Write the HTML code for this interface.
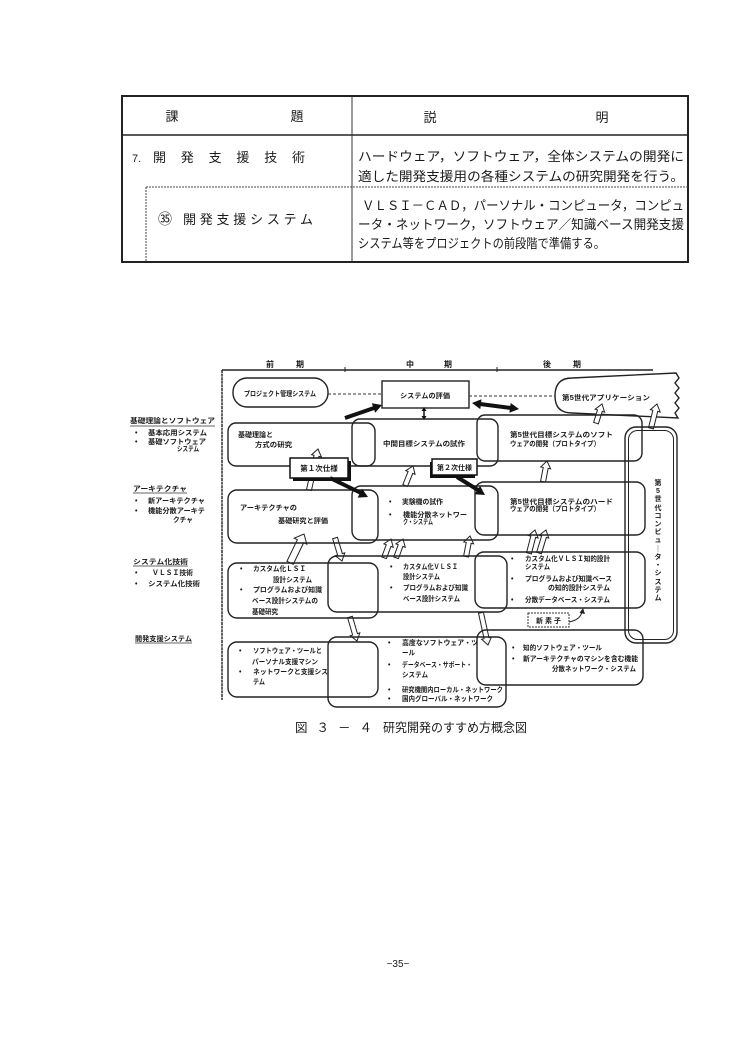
<!DOCTYPE html>
<html><head><meta charset="utf-8"><style>
html,body{margin:0;padding:0;background:#fff;}
svg{display:block;}
text{font-family:"Liberation Sans","Noto Sans CJK JP",sans-serif;fill:#1a1a1a;}
.t{font-size:13px;}
.s{font-size:7px;font-weight:bold;}
.h{font-size:8px;font-weight:bold;}
.bx{fill:none;stroke:#222;stroke-width:1.4;}
.ha{fill:#fff;stroke:#222;stroke-width:1;}
</style></head><body>
<svg width="750" height="1054" viewBox="0 0 750 1054" xmlns="http://www.w3.org/2000/svg">
<rect width="750" height="1054" fill="#fff"/>

<!-- TABLE -->
<rect x="122" y="96" width="566" height="166" fill="none" stroke="#222" stroke-width="2"/>
<line x1="122" y1="135" x2="688" y2="135" stroke="#222" stroke-width="1.5"/>
<line x1="352" y1="96" x2="352" y2="262" stroke="#333" stroke-width="1"/>
<line x1="146" y1="187" x2="688" y2="187" stroke="#444" stroke-width="1" stroke-dasharray="2,1"/>
<line x1="146" y1="187" x2="146" y2="262" stroke="#444" stroke-width="1" stroke-dasharray="2,1"/>

<text class="t" x="172" y="121" text-anchor="middle">課</text>
<text class="t" x="297" y="121" text-anchor="middle">題</text>
<text class="t" x="430" y="122" text-anchor="middle">説</text>
<text class="t" x="602" y="122" text-anchor="middle">明</text>

<text class="t" x="132" y="162" style="font-size:11px">7.</text>
<text class="t" x="153" y="162" textLength="152" lengthAdjust="spacing">開　発　支　援　技　術</text>
<text class="t" x="358" y="161" textLength="326" lengthAdjust="spacingAndGlyphs">ハードウェア，ソフトウェア，全体システムの開発に</text>
<text class="t" x="358" y="181" textLength="326" lengthAdjust="spacingAndGlyphs">適した開発支援用の各種システムの研究開発を行う。</text>

<text class="t" x="165" y="224" text-anchor="middle" style="font-size:14px">㉟</text>
<text class="t" x="183" y="224" textLength="130" lengthAdjust="spacing">開発支援システム</text>
<text class="t" x="362" y="210" textLength="322" lengthAdjust="spacingAndGlyphs">ＶＬＳＩ－ＣＡＤ，パーソナル・コンピュータ，コンピュ</text>
<text class="t" x="358" y="229" textLength="326" lengthAdjust="spacingAndGlyphs">ータ・ネットワーク，ソフトウェア／知識ベース開発支援</text>
<text class="t" x="358" y="248" textLength="247" lengthAdjust="spacingAndGlyphs">システム等をプロジェクトの前段階で準備する。</text>

<!-- DIAGRAM FRAME -->
<line x1="222" y1="370" x2="653" y2="370" stroke="#222" stroke-width="1.4"/>
<line x1="222" y1="370" x2="222" y2="700" stroke="#222" stroke-width="1.4" stroke-dasharray="3,0.6"/>
<line x1="345" y1="367" x2="345" y2="372" stroke="#222" stroke-width="1"/>
<line x1="497" y1="367" x2="497" y2="372" stroke="#222" stroke-width="1"/>
<text class="h" x="270" y="367" text-anchor="middle">前</text>
<text class="h" x="300" y="367" text-anchor="middle">期</text>
<text class="h" x="410" y="367" text-anchor="middle">中</text>
<text class="h" x="448" y="367" text-anchor="middle">期</text>
<text class="h" x="547" y="367" text-anchor="middle">後</text>
<text class="h" x="577" y="367" text-anchor="middle">期</text>

<!-- top row -->
<rect class="bx" x="233" y="378" width="95" height="29" rx="14"/>
<text class="s" x="244" y="396" textLength="72" lengthAdjust="spacingAndGlyphs">プロジェクト管理システム</text>
<line x1="328" y1="394" x2="382" y2="394" stroke="#333" stroke-width="1" stroke-dasharray="3,2"/>
<rect class="bx" x="382" y="381" width="87" height="27"/>
<text class="s" x="400" y="398" textLength="50" lengthAdjust="spacingAndGlyphs">システムの評価</text>
<line x1="469" y1="396" x2="555" y2="396" stroke="#333" stroke-width="1" stroke-dasharray="3,2"/>
<path class="bx" d="M572 378 L676 373 L679 378 L675 383 L679 388 L675 393 L679 398 L675 403 L679 408 L675 413 L678 418 L572 413 Q555 413 555 396 Q555 378 572 378 Z"/>
<text class="s" x="562" y="400" textLength="88" lengthAdjust="spacingAndGlyphs">第5世代アプリケーション</text>

<!-- thick arrows top -->
<line x1="345" y1="418" x2="374" y2="408" stroke="#111" stroke-width="4"/>
<polygon points="382,405 375.2,412.7 371.8,403.3" fill="#111"/>
<line x1="480" y1="404" x2="511" y2="408" stroke="#111" stroke-width="4"/>
<polygon points="519,409 509.4,412.8 510.7,403" fill="#111"/>
<polygon points="472,403 480.3,409.1 481.5,399.2" fill="#111"/>
<line x1="424" y1="411" x2="424" y2="416" stroke="#111" stroke-width="1.5"/>
<polygon points="424,407 421.5,411 426.5,411" fill="#111"/>
<polygon points="424,420 421.5,416 426.5,416" fill="#111"/>

<!-- hollow arrows -->
<g transform="translate(318,449) rotate(12.4)"><polygon class="ha" points="0,0 5,7 2.5,7 2.5,42 -2.5,42 -2.5,7 -5,7"/></g>
<g transform="translate(413,466) rotate(21.8)"><polygon class="ha" points="0,0 5,7 2.5,7 2.5,21 -2.5,21 -2.5,7 -5,7"/></g>
<g transform="translate(547,461) rotate(10.8)"><polygon class="ha" points="0,0 5,7 2.5,7 2.5,21 -2.5,21 -2.5,7 -5,7"/></g>
<g transform="translate(602,404) rotate(17.5)"><polygon class="ha" points="0,0 5,7 2.5,7 2.5,20 -2.5,20 -2.5,7 -5,7"/></g>
<g transform="translate(657,404) rotate(14)"><polygon class="ha" points="0,0 5,7 2.5,7 2.5,25 -2.5,25 -2.5,7 -5,7"/></g>
<g transform="translate(304,534) rotate(25.8)"><polygon class="ha" points="0,0 7,8 3.5,8 3.5,32 -3.5,32 -3.5,8 -7,8"/></g>
<g transform="translate(342,561) rotate(163.1)"><polygon class="ha" points="0,0 5,7 2.5,7 2.5,24 -2.5,24 -2.5,7 -5,7"/></g>
<g transform="translate(391,539) rotate(20.2)"><polygon class="ha" points="0,0 5,7 2.5,7 2.5,20 -2.5,20 -2.5,7 -5,7"/></g>
<g transform="translate(403,539) rotate(20.2)"><polygon class="ha" points="0,0 5,7 2.5,7 2.5,20 -2.5,20 -2.5,7 -5,7"/></g>
<g transform="translate(470,536) rotate(10.8)"><polygon class="ha" points="0,0 5,7 2.5,7 2.5,21 -2.5,21 -2.5,7 -5,7"/></g>
<g transform="translate(535,530) rotate(14.6)"><polygon class="ha" points="0,0 5,7 2.5,7 2.5,24 -2.5,24 -2.5,7 -5,7"/></g>
<g transform="translate(546,530) rotate(16.9)"><polygon class="ha" points="0,0 5,7 2.5,7 2.5,24 -2.5,24 -2.5,7 -5,7"/></g>
<g transform="translate(357,641) rotate(163.7)"><polygon class="ha" points="0,0 5,7 2.5,7 2.5,25 -2.5,25 -2.5,7 -5,7"/></g>
<g transform="translate(488,645) rotate(167.7)"><polygon class="ha" points="0,0 5,7 2.5,7 2.5,33 -2.5,33 -2.5,7 -5,7"/></g>

<!-- Row 1 -->
<rect class="bx" x="228" y="423" width="147" height="43" rx="8"/>
<rect class="bx" x="352" y="419" width="146" height="47" rx="8"/>
<rect class="bx" x="477" y="415" width="165" height="46" rx="8"/>
<text class="s" x="238" y="437" textLength="35" lengthAdjust="spacingAndGlyphs">基礎理論と</text>
<text class="s" x="255" y="447" textLength="37" lengthAdjust="spacingAndGlyphs">方式の研究</text>
<text class="s" x="383" y="446" textLength="82" lengthAdjust="spacingAndGlyphs">中間目標システムの試作</text>
<text class="s" x="510" y="437" textLength="103" lengthAdjust="spacingAndGlyphs">第5世代目標システムのソフト</text>
<text class="s" x="510" y="446" textLength="90" lengthAdjust="spacingAndGlyphs">ウェアの開発（プロトタイプ）</text>

<!-- Row 2 -->
<rect class="bx" x="228" y="490" width="150" height="53" rx="9"/>
<rect class="bx" x="352" y="486" width="146" height="54" rx="9"/>
<rect class="bx" x="475" y="482" width="170" height="53" rx="9"/>
<text class="s" x="240" y="510" textLength="57" lengthAdjust="spacingAndGlyphs">アーキテクチャの</text>
<text class="s" x="278" y="523" textLength="50" lengthAdjust="spacingAndGlyphs">基礎研究と評価</text>
<text class="s" x="389" y="504">•</text>
<text class="s" x="402" y="504" textLength="41" lengthAdjust="spacingAndGlyphs">実験機の試作</text>
<text class="s" x="389" y="517">•</text>
<text class="s" x="403" y="517" textLength="64" lengthAdjust="spacingAndGlyphs">機能分散ネットワー</text>
<text class="s" x="403" y="524" textLength="30" lengthAdjust="spacingAndGlyphs">ク・システム</text>
<text class="s" x="510" y="504" textLength="103" lengthAdjust="spacingAndGlyphs">第5世代目標システムのハード</text>
<text class="s" x="510" y="511" textLength="90" lengthAdjust="spacingAndGlyphs">ウェアの開発（プロトタイプ）</text>

<!-- Row 3 -->
<rect class="bx" x="228" y="563" width="150" height="55" rx="9"/>
<rect class="bx" x="328" y="556" width="179" height="56" rx="9"/>
<rect class="bx" x="475" y="552" width="170" height="56" rx="9"/>
<text class="s" x="240" y="571">•</text>
<text class="s" x="253" y="571" textLength="53" lengthAdjust="spacingAndGlyphs">カスタム化ＬＳＩ</text>
<text class="s" x="273" y="582" textLength="39" lengthAdjust="spacingAndGlyphs">設計システム</text>
<text class="s" x="240" y="592">•</text>
<text class="s" x="253" y="592" textLength="69" lengthAdjust="spacingAndGlyphs">プログラムおよび知識</text>
<text class="s" x="252" y="603" textLength="66" lengthAdjust="spacingAndGlyphs">ベース設計システムの</text>
<text class="s" x="252" y="614" textLength="26" lengthAdjust="spacingAndGlyphs">基礎研究</text>
<text class="s" x="390" y="569">•</text>
<text class="s" x="403" y="569" textLength="55" lengthAdjust="spacingAndGlyphs">カスタム化ＶＬＳＩ</text>
<text class="s" x="403" y="579" textLength="37" lengthAdjust="spacingAndGlyphs">設計システム</text>
<text class="s" x="390" y="590">•</text>
<text class="s" x="403" y="590" textLength="65" lengthAdjust="spacingAndGlyphs">プログラムおよび知識</text>
<text class="s" x="403" y="601" textLength="57" lengthAdjust="spacingAndGlyphs">ベース設計システム</text>
<text class="s" x="511" y="561">•</text>
<text class="s" x="525" y="561" textLength="85" lengthAdjust="spacingAndGlyphs">カスタム化ＶＬＳＩ知的設計</text>
<text class="s" x="525" y="569" textLength="25" lengthAdjust="spacingAndGlyphs">システム</text>
<text class="s" x="511" y="581">•</text>
<text class="s" x="525" y="581" textLength="87" lengthAdjust="spacingAndGlyphs">プログラムおよび知識ベース</text>
<text class="s" x="548" y="590" textLength="62" lengthAdjust="spacingAndGlyphs">の知的設計システム</text>
<text class="s" x="511" y="602">•</text>
<text class="s" x="525" y="602" textLength="85" lengthAdjust="spacingAndGlyphs">分散データベース・システム</text>

<!-- 新素子 -->
<rect x="528" y="613" width="41" height="14" fill="none" stroke="#333" stroke-width="1" stroke-dasharray="2,1"/>
<text class="s" x="548.5" y="623" text-anchor="middle">新 素 子</text>
<path d="M569 622 Q580 620 582 612" fill="none" stroke="#222" stroke-width="1"/>
<polygon points="583,608 579.5,613 585,614" fill="#222"/>

<!-- Row 4 -->
<rect class="bx" x="228" y="642" width="150" height="55" rx="9"/>
<rect class="bx" x="328" y="637" width="178" height="70" rx="9"/>
<rect class="bx" x="477" y="630" width="166" height="55" rx="9"/>
<text class="s" x="239" y="653">•</text>
<text class="s" x="253" y="653" textLength="69" lengthAdjust="spacingAndGlyphs">ソフトウェア・ツールと</text>
<text class="s" x="252" y="664" textLength="66" lengthAdjust="spacingAndGlyphs">パーソナル支援マシン</text>
<text class="s" x="239" y="674">•</text>
<text class="s" x="253" y="674" textLength="75" lengthAdjust="spacingAndGlyphs">ネットワークと支援シス</text>
<text class="s" x="253" y="684" textLength="12" lengthAdjust="spacingAndGlyphs">テム</text>
<text class="s" x="388" y="645">•</text>
<text class="s" x="402" y="645" textLength="76" lengthAdjust="spacingAndGlyphs">高度なソフトウェア・ツ</text>
<text class="s" x="402" y="655" textLength="13" lengthAdjust="spacingAndGlyphs">ール</text>
<text class="s" x="388" y="667">•</text>
<text class="s" x="402" y="667" textLength="70" lengthAdjust="spacingAndGlyphs">データベース・サポート・</text>
<text class="s" x="402" y="677" textLength="26" lengthAdjust="spacingAndGlyphs">システム</text>
<text class="s" x="388" y="692">•</text>
<text class="s" x="402" y="692" textLength="101" lengthAdjust="spacingAndGlyphs">研究機関内ローカル・ネットワーク</text>
<text class="s" x="388" y="701">•</text>
<text class="s" x="402" y="701" textLength="91" lengthAdjust="spacingAndGlyphs">国内グローバル・ネットワーク</text>
<text class="s" x="512" y="650">•</text>
<text class="s" x="523" y="650" textLength="79" lengthAdjust="spacingAndGlyphs">知的ソフトウェア・ツール</text>
<text class="s" x="512" y="661">•</text>
<text class="s" x="523" y="661" textLength="115" lengthAdjust="spacingAndGlyphs">新アーキテクチャのマシンを含む機能</text>
<text class="s" x="552" y="671" textLength="84" lengthAdjust="spacingAndGlyphs">分散ネットワーク・システム</text>

<!-- tall box -->
<rect class="bx" x="625" y="427" width="52" height="216" rx="11"/>
<rect class="bx" x="628.5" y="430.5" width="45" height="209" rx="9" style="stroke-width:1"/>
<g text-anchor="middle">
<text class="s" x="658" y="485">第</text>
<text class="s" x="658" y="493">5</text>
<text class="s" x="658" y="501">世</text>
<text class="s" x="658" y="510">代</text>
<text class="s" x="658" y="518">コ</text>
<text class="s" x="658" y="526">ン</text>
<text class="s" x="658" y="534">ピ</text>
<text class="s" x="658" y="542">ュ</text>
<text class="s" x="658" y="551">｜</text>
<text class="s" x="658" y="559">タ</text>
<text class="s" x="658" y="567">・</text>
<text class="s" x="658" y="575">シ</text>
<text class="s" x="658" y="584">ス</text>
<text class="s" x="658" y="592">テ</text>
<text class="s" x="658" y="600">ム</text>
</g>

<!-- shaded spec boxes + thick arrows -->
<rect x="293" y="461" width="58" height="20" fill="#111"/>
<rect x="290" y="458" width="58" height="20" fill="#fff" stroke="#111" stroke-width="1.5"/>
<text class="s" x="319" y="471" text-anchor="middle" style="font-size:7.5px">第１次仕様</text>
<line x1="330" y1="478" x2="361" y2="493" stroke="#111" stroke-width="4"/>
<polygon points="368,497 357.7,497.6 362.1,488.6" fill="#111"/>

<rect x="430" y="462" width="45" height="16" fill="#111"/>
<rect x="432" y="459" width="45" height="16" fill="#fff" stroke="#111" stroke-width="1.5"/>
<text class="s" x="454.5" y="470" text-anchor="middle">第２次仕様</text>
<line x1="457" y1="477" x2="478" y2="490" stroke="#111" stroke-width="4"/>
<polygon points="485,495 474.7,494.3 480.1,485.9" fill="#111"/>

<!-- left labels -->
<text class="s" x="130" y="423" textLength="85" lengthAdjust="spacingAndGlyphs">基礎理論とソフトウェア</text>
<line x1="130" y1="426" x2="215" y2="426" stroke="#333" stroke-width="0.8"/>
<text class="s" x="135" y="435">•</text>
<text class="s" x="148" y="435" textLength="59" lengthAdjust="spacingAndGlyphs">基本応用システム</text>
<text class="s" x="135" y="444">•</text>
<text class="s" x="148" y="444" textLength="58" lengthAdjust="spacingAndGlyphs">基礎ソフトウェア</text>
<text class="s" x="177" y="451" textLength="22" lengthAdjust="spacingAndGlyphs">システム</text>

<text class="s" x="133" y="491" textLength="54" lengthAdjust="spacingAndGlyphs">アーキテクチャ</text>
<line x1="133" y1="493" x2="187" y2="493" stroke="#333" stroke-width="0.8"/>
<text class="s" x="135" y="503">•</text>
<text class="s" x="148" y="503" textLength="57" lengthAdjust="spacingAndGlyphs">新アーキテクチャ</text>
<text class="s" x="135" y="513">•</text>
<text class="s" x="148" y="513" textLength="57" lengthAdjust="spacingAndGlyphs">機能分散アーキテ</text>
<text class="s" x="173" y="522" textLength="20" lengthAdjust="spacingAndGlyphs">クチャ</text>

<text class="s" x="133" y="564" textLength="55" lengthAdjust="spacingAndGlyphs">システム化技術</text>
<line x1="133" y1="566" x2="188" y2="566" stroke="#333" stroke-width="0.8"/>
<text class="s" x="135" y="575">•</text>
<text class="s" x="152" y="575" textLength="41" lengthAdjust="spacingAndGlyphs">ＶＬＳＩ技術</text>
<text class="s" x="135" y="586">•</text>
<text class="s" x="148" y="586" textLength="52" lengthAdjust="spacingAndGlyphs">システム化技術</text>

<text class="s" x="135" y="641" textLength="57" lengthAdjust="spacingAndGlyphs">開発支援システム</text>
<line x1="135" y1="643" x2="192" y2="643" stroke="#333" stroke-width="0.8"/>

<!-- caption -->
<text x="295" y="732" style="font-size:12.5px" textLength="77" lengthAdjust="spacing">図３－４</text>
<text x="383" y="732" style="font-size:12.5px" textLength="144" lengthAdjust="spacingAndGlyphs">研究開発のすすめ方概念図</text>

<!-- page number -->
<text x="398" y="967" style="font-size:10px" text-anchor="middle">−35−</text>
</svg>
</body></html>
